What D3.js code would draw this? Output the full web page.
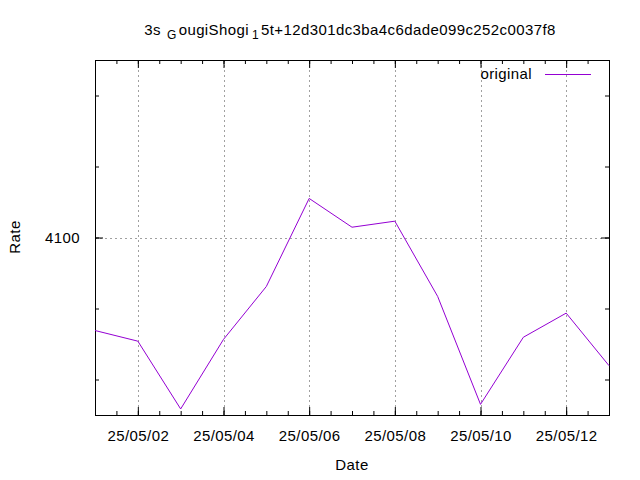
<!DOCTYPE html>
<html>
<head>
<meta charset="utf-8">
<script src="https://cdn.jsdelivr.net/npm/d3@7"></script>
<style>
  body { margin: 0; background: #fff; }
  svg text { font-family: "Liberation Sans", Arial, sans-serif; font-size: 15px; fill: #000; letter-spacing: 0.4px; }
</style>
</head>
<body>
<svg id="chart" width="640" height="480"></svg>
<script>
const dates = ["2025-05-01","2025-05-02","2025-05-03","2025-05-04","2025-05-05","2025-05-06","2025-05-07",
               "2025-05-08","2025-05-09","2025-05-10","2025-05-11","2025-05-12","2025-05-13"];
const rates = [4073.8, 4070.8, 4051.7, 4071.3, 4086.2, 4111.0, 4102.9, 4104.6, 4083.4, 4053.0, 4071.9, 4078.7, 4063.9];
const yTicks = [4100];
const yMinorTicks = [4060, 4080, 4100, 4120, 4140];
const xTickDates = ["2025-05-02","2025-05-04","2025-05-06","2025-05-08","2025-05-10","2025-05-12"];
const seriesName = "original";

const parse = d3.utcParse("%Y-%m-%d");
const fmt = d3.utcFormat("%y/%m/%d");
const data = dates.map((d, i) => ({ date: parse(d), value: rates[i] }));

const svg = d3.select("#chart");
const m = { left: 95, right: 609, top: 60, bottom: 415 };

const x = d3.scaleUtc().domain([parse("2025-05-01"), parse("2025-05-13")]).range([m.left, m.right]);
const y = d3.scaleLinear().domain([4050, 4150]).range([m.bottom, m.top]);

const xMajor = xTickDates.map(parse);
const xMinor = d3.utcHour.every(12).range(parse("2025-05-01"), d3.utcHour.offset(parse("2025-05-13"), 1));

// grid
const grid = svg.append("g").attr("stroke", "#a0a0a0").attr("stroke-width", 1).attr("stroke-dasharray", "2,3");
xMajor.forEach(d => grid.append("line").attr("x1", Math.round(x(d)) + 0.5).attr("x2", Math.round(x(d)) + 0.5)
  .attr("y1", m.top).attr("y2", m.bottom));
yTicks.forEach(v => grid.append("line").attr("y1", Math.round(y(v)) + 0.5).attr("y2", Math.round(y(v)) + 0.5)
  .attr("x1", m.left).attr("x2", m.right));

// axes with mirrored inward ticks
const major = 8, minor = 4;
const bottomAxis = d3.axisBottom(x).tickValues(xMajor).tickFormat(fmt).tickSize(-major).tickPadding(15);
const gB = svg.append("g").attr("transform", `translate(0,${m.bottom})`).call(bottomAxis);
const gBm = svg.append("g").attr("transform", `translate(0,${m.bottom})`)
  .call(d3.axisBottom(x).tickValues(xMinor).tickFormat("").tickSize(-minor));
const gT = svg.append("g").attr("transform", `translate(0,${m.top})`)
  .call(d3.axisTop(x).tickValues(xMajor).tickFormat("").tickSize(-major));
const gTm = svg.append("g").attr("transform", `translate(0,${m.top})`)
  .call(d3.axisTop(x).tickValues(xMinor).tickFormat("").tickSize(-minor));
const gL = svg.append("g").attr("transform", `translate(${m.left},0)`)
  .call(d3.axisLeft(y).tickValues(yTicks).tickFormat(d3.format("d")).tickSize(-major).tickPadding(15));
const gLm = svg.append("g").attr("transform", `translate(${m.left},0)`)
  .call(d3.axisLeft(y).tickValues(yMinorTicks).tickFormat("").tickSize(-minor));
const gR = svg.append("g").attr("transform", `translate(${m.right},0)`)
  .call(d3.axisRight(y).tickValues(yTicks).tickFormat("").tickSize(-major));
const gRm = svg.append("g").attr("transform", `translate(${m.right},0)`)
  .call(d3.axisRight(y).tickValues(yMinorTicks).tickFormat("").tickSize(-minor));
[gB, gBm, gT, gTm, gL, gLm, gR, gRm].forEach(g => {
  g.select(".domain").remove();
  g.selectAll("line").attr("stroke", "#000");
  g.selectAll("text").attr("font-family", null).attr("font-size", null);
});

// border
svg.append("rect").attr("x", m.left + 0.5).attr("y", m.top + 0.5)
  .attr("width", m.right - m.left).attr("height", m.bottom - m.top)
  .attr("fill", "none").attr("stroke", "#000").attr("stroke-width", 1);

// line
svg.append("path").datum(data)
  .attr("fill", "none").attr("stroke", "#9400d3").attr("stroke-width", 1)
  .attr("d", d3.line().x(d => x(d.date)).y(d => y(d.value)));

// legend
svg.append("text").attr("x", 532).attr("y", 74).attr("text-anchor", "end").attr("dy", "0.35em").text(seriesName);
svg.append("line").attr("x1", 545).attr("x2", 591).attr("y1", 74.5).attr("y2", 74.5)
  .attr("stroke", "#9400d3").attr("stroke-width", 1);

// title with enhanced-text subscripts
const title = svg.append("text").attr("x", 350).attr("y", 35).attr("text-anchor", "middle");
title.append("tspan").text("3s");
title.append("tspan").attr("font-size", "12px").attr("dx", 6).attr("dy", 4).text("G");
title.append("tspan").attr("dx", 2).attr("dy", -4).text("ougiShogi");
title.append("tspan").attr("font-size", "12px").attr("dx", 3).attr("dy", 4).text("1");
title.append("tspan").attr("dx", 2).attr("dy", -4).text("5t+12d301dc3ba4c6dade099c252c0037f8");

// axis labels
svg.append("text").attr("x", 352).attr("y", 470).attr("text-anchor", "middle").text("Date");
svg.append("text").attr("transform", "translate(20,237) rotate(-90)").attr("text-anchor", "middle").text("Rate");
</script>
</body>
</html>
